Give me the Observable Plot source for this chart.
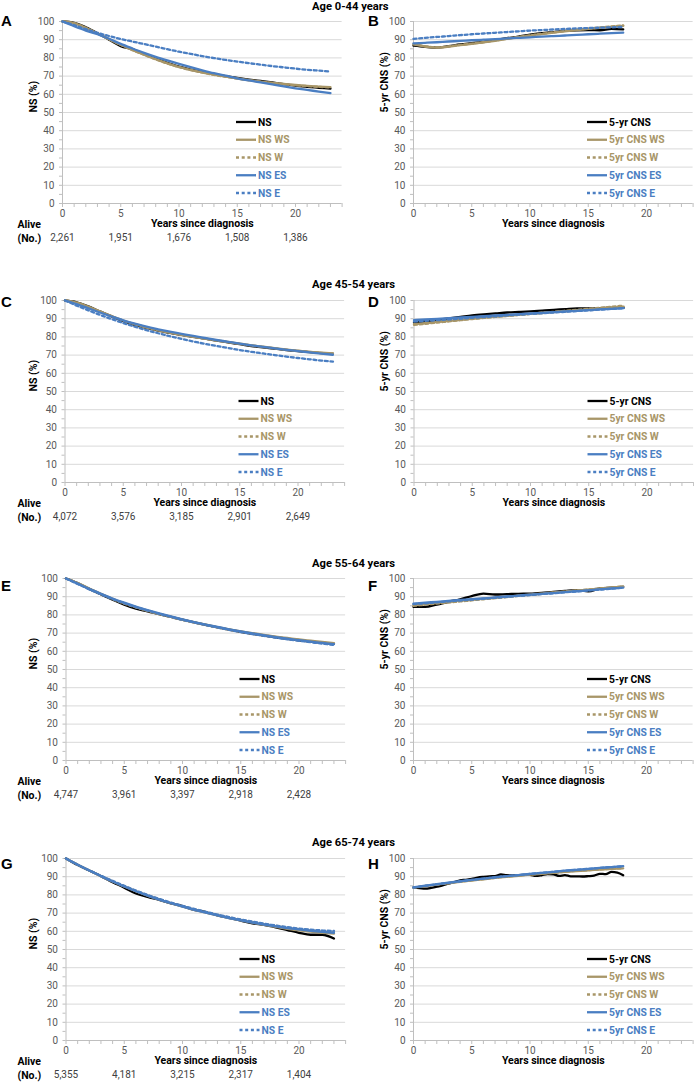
<!DOCTYPE html>
<html><head><meta charset="utf-8">
<script src="https://cdn.jsdelivr.net/npm/d3@7"></script>
<script src="https://cdn.jsdelivr.net/npm/@observablehq/plot@0.6"></script>
<style>
body{margin:0;background:#fff;font-family:Roboto,sans-serif;}
#root{position:relative;width:694px;height:1089px;overflow:hidden;background:#fff;}
.panel{position:absolute;}
.title{position:absolute;font-weight:700;font-size:11.2px;color:#000;white-space:nowrap;line-height:1;}
.letter{position:absolute;font-family:"Liberation Sans",Arial,sans-serif;font-weight:700;font-size:15px;line-height:1;color:#000;}
</style></head><body><div id="root"></div>
<script>
// ---------- tick labels / axes ----------
const xTicks = [0,5,10,15,20];
const xMinor = [0,1,2,3,4,5,6,7,8,9,10,11,12,13,14,15,16,17,18,19,20,21,22,23,24];
const yTicks = [0,10,20,30,40,50,60,70,80,90,100];
const yMinor = [0,5,10,15,20,25,30,35,40,45,50,55,60,65,70,75,80,85,90,95,100];
const yearsNS = [0,1,2,3,4,5,6,7,8,9,10,11,12,13,14,15,16,17,18,19,20,21,22,23];
const yearsCNS = [0,1,2,3,4,5,6,7,8,9,10,11,12,13,14,15,16,17,18];
const yearsHalf = [0,0.5,1,1.5,2,2.5,3,3.5,4,4.5,5,5.5,6,6.5,7,7.5,8,8.5,9,9.5,10,10.5,11,11.5,12,12.5,13,13.5,14,14.5,15,15.5,16,16.5,17,17.5,18];
const aliveYears = [0,5,10,15,20];

const titles = ["Age 0-44 years","Age 45-54 years","Age 55-64 years","Age 65-74 years"];
const lettersLeft = ["A","C","E","G"];
const lettersRight = ["B","D","F","H"];
const labelsNS = ["NS","NS WS","NS W","NS ES","NS E"];
const labelsCNS = ["5-yr CNS","5yr CNS WS","5yr CNS W","5yr CNS ES","5yr CNS E"];

// ---------- Age 0-44 ----------
const A_NS = [100,99.3,96.8,93.6,90.0,86.5,84.8,82.2,79.6,77.3,75.2,73.6,72.3,71.1,70.0,69.0,68.1,67.3,66.5,65.6,64.8,64.1,63.6,63.1];
const A_WS = [100,99.1,96.6,93.5,90.3,87.2,84.4,81.8,79.3,77.0,75.0,73.4,72.0,70.8,69.7,68.7,67.8,67.0,66.3,65.7,65.1,64.6,64.2,63.9];
const A_W  = [100,99.0,96.5,93.4,90.2,87.1,84.3,81.7,79.2,76.9,74.9,73.3,71.9,70.7,69.6,68.6,67.7,66.9,66.2,65.6,65.0,64.5,64.1,63.8];
const A_ES = [100,97.4,95.0,93.0,90.5,87.7,85.2,82.8,80.6,78.6,76.7,74.9,73.2,71.6,70.2,68.8,67.6,66.5,65.4,64.3,63.3,62.4,61.5,60.6];
const A_E  = [100,98.0,95.8,93.8,92.0,90.4,89.0,87.6,86.2,84.8,83.4,82.2,81.0,79.9,78.9,78.0,77.1,76.3,75.5,74.8,74.1,73.5,73.0,72.5];
const B_NS = [86.7,86.1,85.7,86.4,87.4,88.1,88.8,89.8,90.8,91.7,92.8,93.6,94.2,94.8,95.2,95.3,95.2,96.0,95.7];
const B_WS = [87.4,86.2,85.6,86.2,87.0,87.7,88.5,89.4,90.4,91.4,92.3,93.1,93.9,94.6,95.3,95.9,96.5,97.1,97.6];
const B_W  = [87.6,86.4,85.8,86.3,87.1,87.8,88.6,89.5,90.5,91.5,92.4,93.2,94.0,94.8,95.5,96.1,96.7,97.3,97.9];
const B_ES = [88.0,88.3,88.6,89.0,89.3,89.7,90.0,90.3,90.7,91.0,91.3,91.7,92.0,92.3,92.6,93.0,93.3,93.6,93.9];
const B_E  = [90.5,91.0,91.5,92.0,92.5,93.0,93.4,93.8,94.2,94.6,95.0,95.3,95.6,95.9,96.2,96.4,96.6,96.8,97.0];
const A_alive = [2261,1951,1676,1508,1386];

// ---------- Age 45-54 ----------
const C_NS = [100,99.0,96.8,94.0,91.3,88.6,86.6,84.9,83.4,82.2,81.1,80.0,79.0,78.0,77.0,76.0,75.0,74.2,73.5,72.8,72.2,71.6,71.1,70.6];
const C_WS = [100,98.8,96.6,94.0,91.5,89.0,87.0,85.2,83.7,82.4,81.2,80.1,79.1,78.1,77.2,76.3,75.4,74.6,73.8,73.0,72.4,71.8,71.3,70.9];
const C_W  = [100,98.7,96.5,93.9,91.4,88.9,86.9,85.1,83.6,82.3,81.1,80.0,79.0,78.0,77.1,76.2,75.3,74.5,73.7,72.9,72.3,71.7,71.2,70.8];
const C_ES = [100,98.0,95.7,93.4,91.2,89.1,87.3,85.6,84.2,82.9,81.7,80.5,79.4,78.3,77.3,76.3,75.4,74.5,73.7,72.9,72.2,71.5,70.8,70.2];
const C_E  = [100,97.2,94.6,92.1,89.8,87.6,85.6,83.7,82.0,80.4,78.9,77.5,76.2,75.0,73.9,72.8,71.8,70.9,70.0,69.2,68.4,67.7,67.0,66.4];
const D_NS = [87.8,88.6,89.4,90.2,91.0,91.8,92.4,92.9,93.4,93.7,94.0,94.4,94.8,95.3,95.7,95.7,95.8,96.0,96.0];
const D_WS = [87.0,87.6,88.2,88.8,89.4,90.0,90.6,91.1,91.6,92.1,92.6,93.1,93.6,94.1,94.6,95.1,95.6,96.1,96.6];
const D_W  = [86.6,87.2,87.9,88.5,89.2,89.8,90.4,91.0,91.6,92.1,92.7,93.3,93.8,94.4,94.9,95.5,96.0,96.6,97.2];
const D_ES = [89.2,89.6,89.9,90.3,90.7,91.0,91.4,91.8,92.1,92.5,92.9,93.2,93.6,94.0,94.3,94.7,95.1,95.4,95.8];
const D_E  = [88.4,88.8,89.2,89.6,90.0,90.5,90.9,91.3,91.8,92.2,92.6,93.0,93.4,93.8,94.2,94.6,95.0,95.4,95.8];
const C_alive = [4072,3576,3185,2901,2649];

// ---------- Age 55-64 ----------
const E_NS = [100,97.5,94.3,91.3,88.4,85.6,83.4,82.0,80.4,78.9,77.4,75.9,74.5,73.2,71.9,70.7,69.6,68.6,67.7,66.8,66.0,65.3,64.7,64.1];
const E_WS = [100,97.5,94.5,91.6,88.9,86.4,84.3,82.4,80.6,79.0,77.4,76.0,74.6,73.3,72.1,71.0,70.0,69.0,68.1,67.3,66.5,65.8,65.1,64.5];
const E_W  = [100,97.3,94.3,91.4,88.7,86.2,84.1,82.2,80.4,78.8,77.2,75.8,74.4,73.1,71.9,70.8,69.8,68.8,67.9,67.0,66.2,65.4,64.7,64.1];
const E_ES = [100,97.2,94.3,91.6,89.0,86.7,84.6,82.7,80.9,79.2,77.6,76.1,74.7,73.4,72.1,70.9,69.8,68.8,67.8,66.9,66.1,65.3,64.6,63.9];
const E_E  = [100,97.0,94.0,91.3,88.7,86.4,84.3,82.4,80.6,78.9,77.3,75.8,74.4,73.1,71.8,70.6,69.5,68.5,67.5,66.6,65.8,65.0,64.2,63.5];
const F_NS = [84.4,84.4,85.7,87.2,88.6,90.3,91.7,91.2,91.4,91.6,91.7,92.1,92.7,93.2,93.6,93.0,94.5,95.0,95.4];
const F_WS = [85.5,86.1,86.6,87.2,87.8,88.3,88.9,89.4,90.0,90.6,91.1,91.7,92.3,92.8,93.4,93.9,94.5,95.0,95.6];
const F_W  = [85.0,85.6,86.2,86.8,87.4,88.0,88.6,89.2,89.8,90.4,91.0,91.6,92.2,92.8,93.4,93.9,94.5,95.1,95.7];
const F_ES = [86.2,86.7,87.2,87.7,88.2,88.7,89.1,89.6,90.1,90.6,91.1,91.5,92.0,92.5,93.0,93.5,94.0,94.5,95.0];
const F_E  = [85.9,86.4,86.9,87.4,87.9,88.4,88.9,89.4,89.9,90.4,90.9,91.4,91.9,92.4,92.9,93.4,93.9,94.4,94.9];
const E_alive = [4747,3961,3397,2918,2428];

// ---------- Age 65-74 ----------
const G_NS = [100,96.4,93.4,90.3,87.0,84.0,80.8,78.9,77.3,75.4,73.8,71.8,70.6,68.7,67.4,65.9,64.4,63.5,62.2,60.7,59.2,58.1,58.1,56.0];
const G_WS = [100,96.6,93.4,90.3,87.4,84.6,82.0,79.6,77.4,75.4,73.5,71.8,70.2,68.7,67.3,66.0,64.7,63.5,62.4,61.4,60.5,59.8,59.2,58.7];
const G_W  = [100,96.6,93.4,90.4,87.5,84.8,82.2,79.8,77.6,75.6,73.8,72.1,70.5,69.0,67.6,66.3,65.1,64.0,63.0,62.1,61.3,60.6,60.1,59.7];
const G_ES = [100,96.6,93.4,90.3,87.4,84.6,82.0,79.6,77.4,75.4,73.5,71.8,70.2,68.7,67.3,66.0,64.8,63.7,62.7,61.8,61.0,60.3,59.7,59.2];
const G_E  = [100,96.6,93.5,90.5,87.7,85.0,82.4,80.0,77.8,75.8,74.0,72.3,70.7,69.2,67.8,66.5,65.3,64.2,63.2,62.3,61.5,60.9,60.5,60.2];
const H_NS = [84.0,83.8,83.4,83.8,84.5,85.2,86.2,87.0,88.0,88.3,88.8,89.5,89.9,90.2,90.3,91.2,90.8,90.7,90.9,91.0,91.0,90.4,90.8,91.4,91.3,90.4,90.9,90.2,90.2,90.1,90.3,90.6,91.6,91.4,92.6,92.3,90.8];
const H_WS = [84.0,84.8,85.6,86.4,87.2,87.9,88.6,89.3,89.9,90.5,91.1,91.6,92.1,92.6,93.1,93.5,93.9,94.3,94.6];
const H_W  = [84.1,84.9,85.7,86.5,87.3,88.0,88.7,89.4,90.0,90.6,91.2,91.7,92.2,92.7,93.2,93.6,94.0,94.4,94.7];
const H_ES = [84.2,85.1,85.9,86.7,87.5,88.3,89.0,89.7,90.3,90.9,91.5,92.1,92.7,93.3,93.8,94.3,94.8,95.3,95.8];
const H_E  = [84.0,84.9,85.8,86.6,87.4,88.2,88.9,89.6,90.3,90.9,91.5,92.1,92.7,93.3,93.8,94.3,94.8,95.3,95.7];
const G_alive = [5355,4181,3215,2317,1404];

// ---------- styles ----------
const BLACK = "#000000", TAN = "#a89668", BLUE = "#4a7ec2";
const seriesStyle = [
  {stroke: BLACK, dash: null},
  {stroke: TAN, dash: null},
  {stroke: TAN, dash: "3,2.7"},
  {stroke: BLUE, dash: null},
  {stroke: BLUE, dash: "3,2.7"}
];

const rowsLeft = [
  {x: [yearsNS,yearsNS,yearsNS,yearsNS,yearsNS], y: [A_NS,A_WS,A_W,A_ES,A_E], alive: A_alive, x0: 62},
  {x: [yearsNS,yearsNS,yearsNS,yearsNS,yearsNS], y: [C_NS,C_WS,C_W,C_ES,C_E], alive: C_alive, x0: 64.5},
  {x: [yearsNS,yearsNS,yearsNS,yearsNS,yearsNS], y: [E_NS,E_WS,E_W,E_ES,E_E], alive: E_alive, x0: 65.5},
  {x: [yearsNS,yearsNS,yearsNS,yearsNS,yearsNS], y: [G_NS,G_WS,G_W,G_ES,G_E], alive: G_alive, x0: 65.5}
];
const rowsRight = [
  {x: [yearsCNS,yearsCNS,yearsCNS,yearsCNS,yearsCNS], y: [B_NS,B_WS,B_W,B_ES,B_E], x0: 413},
  {x: [yearsCNS,yearsCNS,yearsCNS,yearsCNS,yearsCNS], y: [D_NS,D_WS,D_W,D_ES,D_E], x0: 413.5},
  {x: [yearsCNS,yearsCNS,yearsCNS,yearsCNS,yearsCNS], y: [F_NS,F_WS,F_W,F_ES,F_E], x0: 413},
  {x: [yearsHalf,yearsCNS,yearsCNS,yearsCNS,yearsCNS], y: [H_NS,H_WS,H_W,H_ES,H_E], x0: 413}
];

const root = document.getElementById("root");
const fmt = d3.format(",");
const MT = 10, PH = 182, MB = 55, XW = 279.6;

function makePanel(cfg, left, top, svgW, yLabel, labels) {
  const ml = cfg.x0 - left;
  const mr = svgW - ml - XW;
  const lines = cfg.y.map((ys, i) => {
    const data = ys.map((v, j) => ({year: cfg.x[i][j], value: v}));
    return Plot.line(data, {x: "year", y: "value", stroke: seriesStyle[i].stroke,
      strokeWidth: 2.3, strokeDasharray: seriesStyle[i].dash, curve: "monotone-x"});
  });
  const marks = [
    Plot.gridY(yTicks.filter(d => d > 0), {stroke: "#d9d9d9", strokeOpacity: 1, strokeWidth: 1}),
    Plot.ruleY([0], {stroke: "#bfbfbf"}),
    Plot.ruleX([0], {stroke: "#bfbfbf"}),
    Plot.axisY({ticks: yMinor, tickSize: 3, tickFormat: () => "", stroke: "#bfbfbf", label: null}),
    Plot.axisY({ticks: yTicks, tickSize: 0, tickPadding: 8, fill: "#595959", fontSize: 10, label: null}),
    Plot.axisX({ticks: xMinor, tickSize: 4, tickFormat: () => "", stroke: "#bfbfbf", label: null}),
    Plot.axisX({ticks: xTicks, tickSize: 0, tickPadding: 6, fill: "#595959", fontSize: 10, label: null}),
    ...lines,
    Plot.text(["Years since diagnosis"], {frameAnchor: "bottom", dy: 23, text: d => d,
      fontWeight: "bold", fontSize: 10.5, fill: "#000"}),
    Plot.text([yLabel], {frameAnchor: "left", rotate: -90, dx: (left === 0 ? 33 : 384) - cfg.x0, text: d => d,
      fontWeight: "bold", fontSize: 10.5, fill: "#000"})
  ];
  if (cfg.alive) {
    const aliveRows = aliveYears.map((x, i) => ({x, n: cfg.alive[i]}));
    marks.push(Plot.text(aliveRows, {x: "x", text: d => fmt(d.n), frameAnchor: "bottom", dy: 37,
      fontSize: 10, fill: "#404040"}));
    marks.push(Plot.text(["Alive\n(No.)"], {frameAnchor: "bottom-left", dx: 17 - cfg.x0, dy: 38,
      textAnchor: "start", lineHeight: 1.33, text: d => d, fontWeight: "bold", fontSize: 10.5, fill: "#000"}));
  }
  const svg = Plot.plot({
    width: svgW, height: MT + PH + MB,
    marginLeft: ml, marginRight: mr, marginTop: MT, marginBottom: MB,
    x: {domain: [0, 24]},
    y: {domain: [0, 100]},
    style: {fontFamily: "Roboto, sans-serif", fontSize: "10px", background: "transparent", overflow: "visible"},
    marks
  });
  // legend inside the frame
  const g = d3.select(svg).append("g").attr("text-anchor", "start");
  const fx = ml, fy = MT + PH;
  labels.forEach((lab, i) => {
    const ly = fy - 81 + i * 17.75;
    const st = seriesStyle[i];
    g.append("line").attr("x1", fx + 174).attr("x2", fx + 194).attr("y1", ly).attr("y2", ly)
      .attr("stroke", st.stroke).attr("stroke-width", 2.3)
      .attr("stroke-dasharray", st.dash);
    g.append("text").attr("x", fx + 196).attr("y", ly).attr("dy", "0.35em")
      .attr("text-anchor", "start")
      .attr("fill", st.stroke).attr("font-weight", "bold").attr("font-size", 10.3)
      .attr("font-family", "Roboto, sans-serif").text(lab);
  });
  const div = document.createElement("div");
  div.className = "panel";
  div.style.left = left + "px";
  div.style.top = top + "px";
  div.appendChild(svg);
  root.appendChild(div);
}

const y100s = [20.7, 299.5, 578.4, 857.5];
const letterTops = [13, 294, 578, 856];
for (let r = 0; r < 4; r++) {
  const top = y100s[r] - MT;
  makePanel(rowsLeft[r], 0, top, 345, "NS (%)", labelsNS);
  makePanel(rowsRight[r], 345, top, 349, "5-yr CNS (%)", labelsCNS);
  const t = document.createElement("div");
  t.className = "title";
  t.style.left = "312px";
  t.style.top = Math.max(1, y100s[r] - 20.5) + "px";
  t.textContent = titles[r];
  root.appendChild(t);
  const la = document.createElement("div");
  la.className = "letter"; la.style.left = "1px"; la.style.top = letterTops[r] + "px";
  la.textContent = lettersLeft[r]; root.appendChild(la);
  const lb = document.createElement("div");
  lb.className = "letter"; lb.style.left = "368px"; lb.style.top = letterTops[r] + "px";
  lb.textContent = lettersRight[r]; root.appendChild(lb);
}
</script>
</body></html>
